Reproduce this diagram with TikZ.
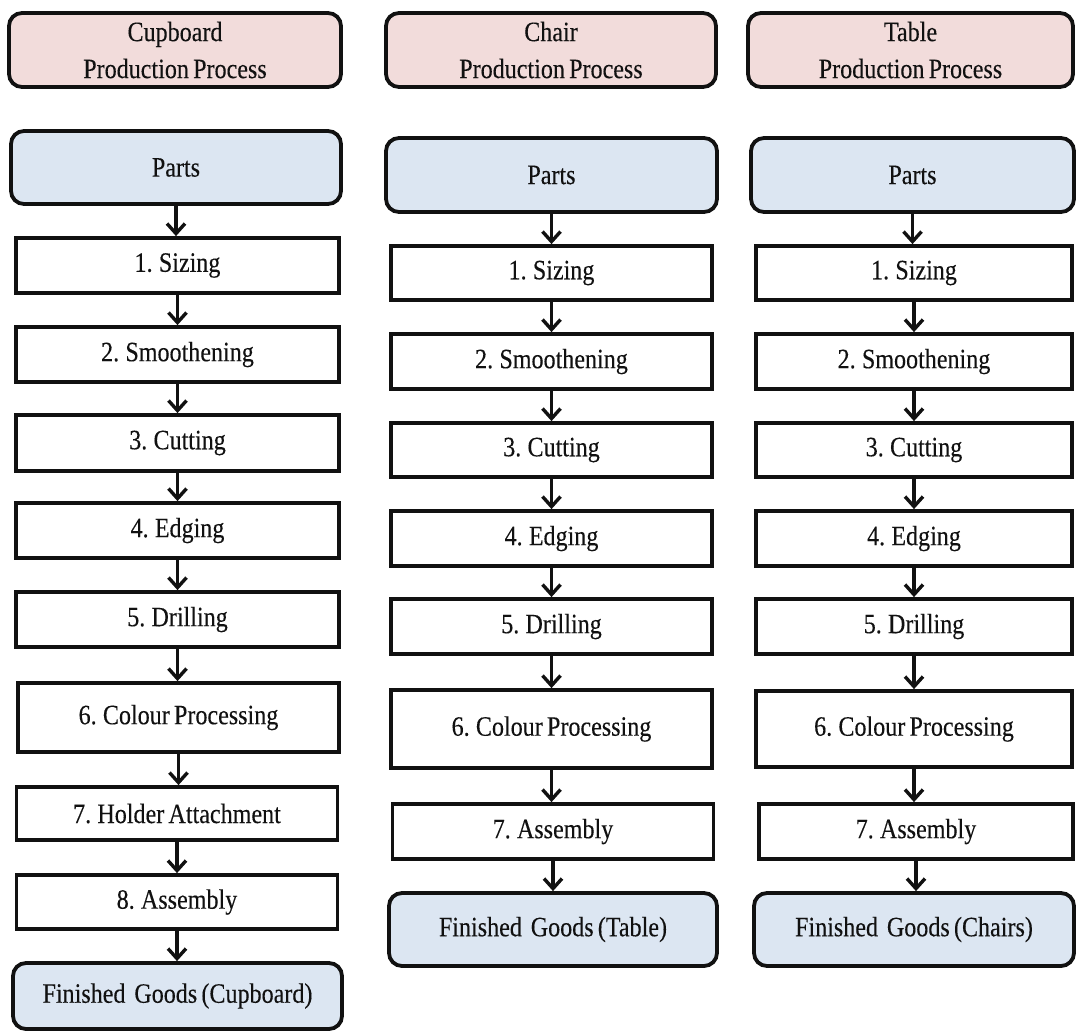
\documentclass[tikz,border=0pt]{standalone}
\usepackage{fontspec}
\setmainfont{Liberation Serif}[FakeStretch=0.86, FakeBold=0.2, WordSpace=0.7]
\usetikzlibrary{arrows.meta}

\definecolor{headfill}{HTML}{F2DCDB}
\definecolor{endfill}{HTML}{DCE6F2}
\definecolor{inkc}{HTML}{111111}

\tikzset{
  every node/.style={font=\fontsize{28}{37}\selectfont, text=inkc},
  basebox/.style={draw=inkc, line width=3.8pt, inner sep=0pt, align=center},
  headbox/.style={basebox, fill=headfill, rounded corners=13pt},
  endbox/.style={basebox, fill=endfill, rounded corners=13pt},
  stepbox/.style={basebox, fill=white},
  flow/.style={draw=inkc, line width=3.4pt, -{Straight Barb[length=10pt,width=18pt,line width=3.4pt]}},
}

\begin{document}
\begin{tikzpicture}[x=1pt, y=-1pt]
\useasboundingbox (0,0) rectangle (1076,1034);

% ---------- Cupboard column ----------
\node[headbox, minimum width=332pt, minimum height=74pt] (ch) at (175,50) {Cupboard\\Production Process};
\node[endbox, minimum width=330pt, minimum height=73pt] (cp) at (176,167.5) {Parts};
\node[stepbox, minimum width=323pt, minimum height=55pt] (c1) at (177.5,265.5) {1. Sizing};
\node[stepbox, minimum width=323pt, minimum height=55pt] (c2) at (177.5,354.5) {2. Smoothening};
\node[stepbox, minimum width=323pt, minimum height=56pt] (c3) at (177.5,443) {3. Cutting};
\node[stepbox, minimum width=323pt, minimum height=55pt] (c4) at (177.5,530.5) {4. Edging};
\node[stepbox, minimum width=323pt, minimum height=55pt] (c5) at (177.5,619.5) {5. Drilling};
\node[stepbox, minimum width=321pt, minimum height=69pt] (c6) at (178.5,717.5) {6. Colour Processing};
\node[stepbox, minimum width=321pt, minimum height=53pt] (c7) at (177,813.5) {7. Holder Attachment};
\node[stepbox, minimum width=321pt, minimum height=54pt] (c8) at (177,902) {8. Assembly};
\node[endbox, minimum width=329pt, minimum height=66pt] (cf) at (177.5,996) {Finished\, Goods (Cupboard)};

% ---------- Chair column ----------
\node[headbox, minimum width=330pt, minimum height=74pt] (hh) at (551,50) {Chair\\Production Process};
\node[endbox, minimum width=331pt, minimum height=74pt] (hp) at (551.5,175) {Parts};
\node[stepbox, minimum width=321pt, minimum height=54pt] (h1) at (551.5,273) {1. Sizing};
\node[stepbox, minimum width=321pt, minimum height=55pt] (h2) at (551.5,361.5) {2. Smoothening};
\node[stepbox, minimum width=321pt, minimum height=54pt] (h3) at (551.5,450) {3. Cutting};
\node[stepbox, minimum width=321pt, minimum height=55pt] (h4) at (551.5,538.5) {4. Edging};
\node[stepbox, minimum width=321pt, minimum height=55pt] (h5) at (551.5,626.5) {5. Drilling};
\node[stepbox, minimum width=321pt, minimum height=78pt] (h6) at (551.5,729) {6. Colour Processing};
\node[stepbox, minimum width=321pt, minimum height=55pt] (h7) at (553,831.5) {7. Assembly};
\node[endbox, minimum width=328pt, minimum height=73pt] (hf) at (553,929.5) {Finished\, Goods (Table)};

% ---------- Table column ----------
\node[headbox, minimum width=325pt, minimum height=74pt] (th) at (910.5,50) {Table\\Production Process};
\node[endbox, minimum width=323pt, minimum height=74pt] (tp) at (912.5,175) {Parts};
\node[stepbox, minimum width=316pt, minimum height=54pt] (t1) at (914,273) {1. Sizing};
\node[stepbox, minimum width=316pt, minimum height=55pt] (t2) at (914,361.5) {2. Smoothening};
\node[stepbox, minimum width=316pt, minimum height=54pt] (t3) at (914,450) {3. Cutting};
\node[stepbox, minimum width=316pt, minimum height=55pt] (t4) at (914,538.5) {4. Edging};
\node[stepbox, minimum width=316pt, minimum height=55pt] (t5) at (914,626.5) {5. Drilling};
\node[stepbox, minimum width=316pt, minimum height=76pt] (t6) at (914,729) {6. Colour Processing};
\node[stepbox, minimum width=314pt, minimum height=55pt] (t7) at (916,831.5) {7. Assembly};
\node[endbox, minimum width=320pt, minimum height=73pt] (tf) at (914,929.5) {Finished\, Goods (Chairs)};

% ---------- connectors ----------
\foreach \a/\b in {cp/c1, c1/c2, c2/c3, c3/c4, c4/c5, c5/c6, c6/c7, c7/c8, c8/cf,
                   hp/h1, h1/h2, h2/h3, h3/h4, h4/h5, h5/h6, h6/h7, h7/hf,
                   tp/t1, t1/t2, t2/t3, t3/t4, t4/t5, t5/t6, t6/t7, t7/tf}
  \draw[flow] (\a.south) -- (\a.south |- \b.north);
\end{tikzpicture}
\end{document}
